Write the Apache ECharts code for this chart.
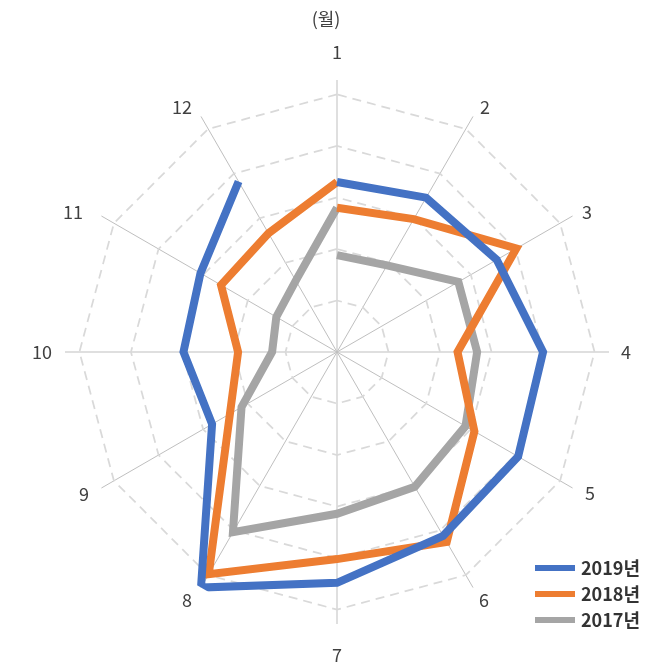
<!DOCTYPE html>
<html>
<head>
<meta charset="utf-8">
<script src="https://cdn.jsdelivr.net/npm/echarts@6/dist/echarts.min.js"></script>
<style>
  html, body { margin: 0; padding: 0; background: #ffffff; }
  #chart { width: 652px; height: 667px; }
</style>
</head>
<body>
<div id="chart"></div>
<script>
// Monthly categories around the dial
const months = ['1', '2', '3', '4', '5', '6', '7', '8', '9', '10', '11', '12'];

// Series values (one per month)
const values2019 = [165, 173, 179, 200, 203, 206, 224, 264, 140, 149, 153, 191];
const values2018 = [140, 149, 201, 117, 154, 213, 201, 249, 120, 96, 130, 133];
const values2017 = [94, 97, 136, 136, 144, 151, 157, 202, 107, 63, 68, 80];

// Closing segment back to month 1 for the 2018 and 2017 traces
const closing2018 = 165;
const closing2017 = 140;

const seriesNames = ['2019년', '2018년', '2017년'];
const seriesColors = ['#4472C4', '#ED7D31', '#A5A5A5'];

const valueMax = 264;
const ringStep = 50;
const ringCount = 5;

// angle position: month index 0..11, a full turn (12) lands back on month 1
function toPolar(values, closing) {
  const pts = values.map((v, i) => [v, i]);
  if (closing !== undefined) pts.push([closing, months.length]);
  return pts;
}

const traces = [
  toPolar(values2019),
  toPolar(values2018, closing2018),
  toPolar(values2017, closing2017)
];

// per-month label offsets (padding: top, right, bottom, left)
const labelPads = [
  [0, 0, 29, 0], [0, 0, 9, 12], [0, 0, 0, 18], [0, 0, 0, 22],
  [1, 0, 0, 21], [12, 0, 0, 11], [32, 0, 0, 0], [12, 14, 0, 0],
  [2, 21, 0, 0], [0, 23, 0, 0], [0, 27, 0, 0], [0, 14, 9, 0]
];
const labelRich = {};
labelPads.forEach((p, i) => {
  labelRich['m' + i] = { padding: p, fontSize: 18, color: '#404040' };
});

const chart = echarts.init(document.getElementById('chart'), null, { renderer: 'canvas' });

const CENTER = [337, 352];
const OUTER = 272;

chart.setOption({
  animation: false,
  backgroundColor: '#ffffff',
  textStyle: { fontFamily: '"Noto Sans CJK KR", "Noto Sans", sans-serif' },
  title: {
    text: '(월)',
    left: 'center',
    top: 5,
    textStyle: { fontSize: 18, fontWeight: 'normal', color: '#404040' }
  },
  legend: {
    orient: 'vertical',
    left: 530,
    top: 554,
    itemWidth: 40,
    itemHeight: 6,
    itemGap: 8,
    icon: 'rect',
    data: seriesNames,
    textStyle: { fontSize: 18, fontWeight: 'bold', color: '#333333', padding: [0, 0, 0, 1] }
  },
  // dashed polygon rings
  radar: {
    center: CENTER,
    radius: OUTER * (ringStep * ringCount) / valueMax,
    splitNumber: ringCount,
    shape: 'polygon',
    startAngle: 90,
    indicator: months.map(m => ({ name: m, max: ringStep * ringCount })),
    axisName: { show: false },
    axisLine: { show: false },
    axisTick: { show: false },
    axisLabel: { show: false },
    splitArea: { show: false },
    splitLine: { lineStyle: { color: '#D9D9D9', width: 1.75, type: [9, 6] } }
  },
  polar: { center: CENTER, radius: OUTER },
  angleAxis: {
    type: 'value',
    min: 0,
    max: months.length,
    interval: 1,
    startAngle: 90,
    clockwise: true,
    axisLine: { show: false },
    axisTick: { show: false },
    axisLabel: {
      margin: -10,
      fontSize: 18,
      color: '#404040',
      formatter: (value) => {
        const i = Math.round(value);
        if (i >= months.length) return '';
        return '{m' + i + '|' + months[i] + '}';
      },
      rich: labelRich
    },
    splitLine: { show: true, lineStyle: { color: '#BFBFBF', width: 1 } }
  },
  radiusAxis: {
    type: 'value',
    min: 0,
    max: valueMax,
    axisLine: { show: false },
    axisTick: { show: false },
    axisLabel: { show: false },
    splitLine: { show: false }
  },
  series: seriesNames.map((name, k) => ({
    name: name,
    type: 'line',
    coordinateSystem: 'polar',
    data: traces[k],
    clip: false,
    showSymbol: false,
    symbol: 'none',
    z: 5 - k,
    color: seriesColors[k],
    lineStyle: { color: seriesColors[k], width: 8, cap: 'butt', join: 'miter' }
  }))
});
</script>
</body>
</html>
